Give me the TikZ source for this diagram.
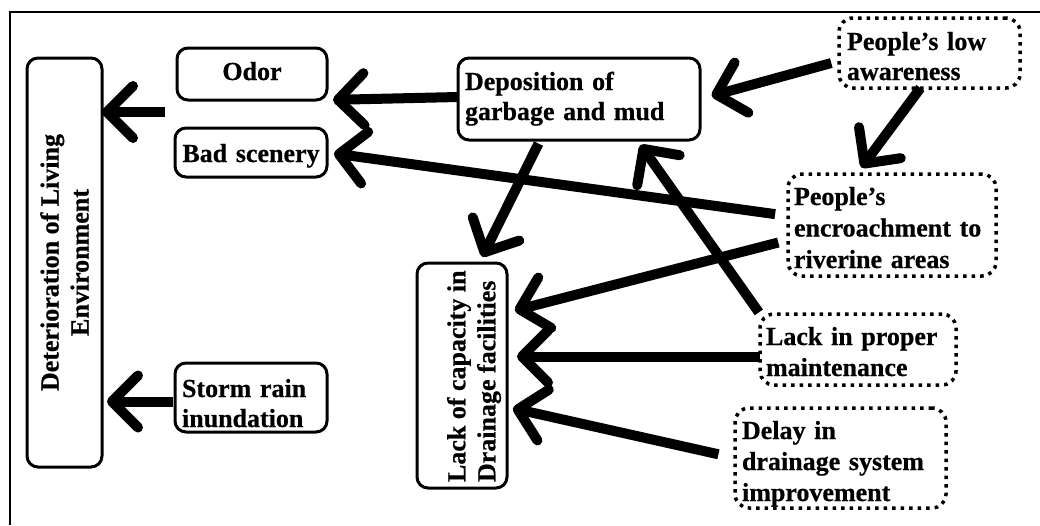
\documentclass[tikz,border=0pt]{standalone}
\usepackage{fontspec}
\usepackage{graphicx}
\setmainfont{Liberation Serif}[BoldFeatures={FakeBold=0.6}]
\usetikzlibrary{arrows.meta,calc}
\begin{document}
\begin{tikzpicture}[x=1pt,y=-1pt,
  every node/.style={outer sep=0pt, inner ysep=0pt, font={\fontsize{26}{30}\selectfont\bfseries}},
  solidbox/.style={draw, line width=3pt, rounded corners=11pt, anchor=north west},
  dotbox/.style={draw, line width=3.5pt, dash pattern=on 3.5pt off 5pt, rounded corners=14pt, anchor=north west, align=left},
  link/.style={line width=10pt, -{Straight Barb[length=26pt,width=52pt,round]}},
  frame/.style={line width=2pt}
]
% canvas and outer frame
\fill[white] (0,0) rectangle (1040,525);
\useasboundingbox (0,0) rectangle (1040,525);
\draw[frame] (10,525) -- (10,12) -- (1040,12);

% effects
\node[solidbox, inner sep=0pt, minimum width=75pt, minimum height=409pt] (det) at (27,58)
  {\rotatebox{90}{\parbox{380pt}{\centering Deterioration of Living\\Environment}}};
\node[solidbox, inner xsep=0pt, text width=150pt, align=center, text height=32pt, text depth=20pt] (odor) at (177,48) {Odor};
\node[solidbox, inner xsep=0pt, text width=152pt, align=center, text height=34pt, text depth=15pt] (bad) at (175,128) {Bad scenery};
\node[solidbox, inner xsep=7pt, text width=138pt, align=left, text height=34pt, text depth=35pt] (storm) at (175,363) {Storm rain\\inundation};

% intermediate problems
\node[solidbox, inner xsep=7pt, text width=228pt, align=left, text height=32pt, text depth=50pt] (dep) at (458,58) {Deposition of\\garbage and mud};
\node[solidbox, inner sep=0pt, minimum width=90pt, minimum height=225pt] (lack) at (417,263)
  {\hspace*{24pt}\rotatebox{90}{\parbox{213pt}{\raggedright Lack of capacity in\\Drainage facilities}}};

% root causes
\node[dotbox, inner xsep=8pt, text width=165pt, text height=32pt, text depth=38pt] (aware) at (839,18) {People’s low\\awareness};
\node[dotbox, inner xsep=6pt, text width=196pt, text height=31pt, text depth=71pt,
  font={\fontsize{26}{31.5}\selectfont\bfseries}] (encr) at (788,174) {People’s\\encroachment to\\riverine areas};
\node[dotbox, inner xsep=6pt, text width=184pt, text height=31pt, text depth=40pt,
  font={\fontsize{26}{31}\selectfont\bfseries}] (maint) at (760,314) {Lack in proper\\maintenance};
\node[dotbox, inner xsep=7pt, text width=197pt, text height=31pt, text depth=69pt,
  font={\fontsize{26}{31}\selectfont\bfseries}] (delay) at (735,408) {Delay in\\drainage system\\improvement};

% cause-effect links
\coordinate (grp) at (165,112);
\draw[link] (grp) -- (grp -| det.east);
\draw[link, shorten >=5pt] ($(storm.west)+(-2,4)$) -- ($(storm.west -| det.east)+(0,4)$);
\draw[link, shorten >=6pt] ($(dep.west)+(0,-2)$) -- (odor.south east);
\draw[link, shorten <=13pt, shorten >=7pt] (encr.175) -- (bad.east);
\draw[link, shorten <=4pt, shorten >=7pt] ($(dep.south west)!.34!(dep.south east)$) -- ($(lack.north west)!.69!(lack.north east)$);
\draw[link, shorten <=8pt, shorten >=12pt] (aware.185) -- (dep.east);
\draw[link, shorten >=8pt] ($(aware.south west)!.45!(aware.south east)$) -- ($(encr.north west)!.33!(encr.north east)$);
\draw[link, shorten <=10pt, shorten >=8pt] ($(encr.west)+(0,15)$) -- ($(lack.north east)!.22!(lack.south east)$);
\draw[link, shorten >=10pt] ($(maint.west)+(0,7)$) -- ($(maint.west -| lack.east)+(0,7)$);
\draw[link, shorten <=2pt, shorten >=6pt] (maint.north west) -- ($(dep.south west)!.74!(dep.south east)$);
\draw[link, shorten <=17pt, shorten >=6pt] (delay.west) -- ($(lack.north east)!.64!(lack.south east)$);
\end{tikzpicture}
\end{document}
